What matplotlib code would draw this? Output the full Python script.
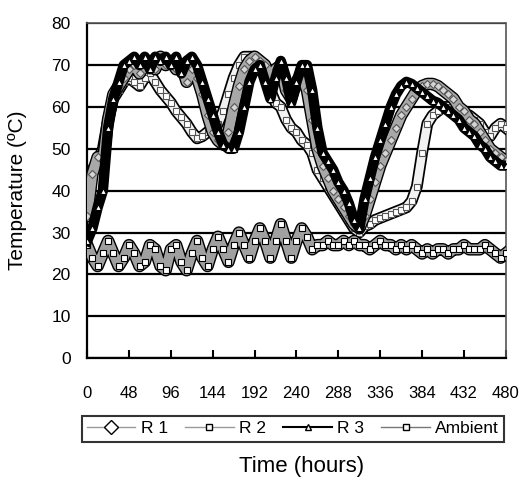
import numpy as np
import matplotlib
matplotlib.use("Agg")
import matplotlib.pyplot as plt
import matplotlib.patheffects as pe
from matplotlib.lines import Line2D

plt.rcParams['font.family'] = ['Liberation Sans', 'DejaVu Sans']

# time axis, one reading every 6 hours
hours = np.arange(0, 481, 6)

r1 = [34, 44, 48, 47, 57, 63, 65, 67, 69, 70, 68, 70, 71, 69, 72, 70, 71, 69, 70, 66,
      69, 67, 63, 58, 54, 52, 51, 54, 60, 65, 69, 71, 72, 71, 70, 66, 69, 70, 64, 62,
      66, 68, 64, 57, 50, 46, 43, 40, 38, 36, 34, 32, 31, 34, 38, 42, 46, 49, 52, 55,
      58, 60, 62, 64, 65, 65.5, 65.5, 65, 64, 63, 62, 60, 59, 57, 56, 54, 52, 50, 49, 48, 47]

r2 = [38, 45, 47, 50, 57, 62, 64, 66, 67, 66, 65, 67, 68, 66, 64, 62.5, 61, 59, 57.5, 56,
      54, 52.5, 53, 54, 55, 56, 59, 63, 67, 70, 72, 72, 72, 71, 68, 64, 61, 60, 57, 55,
      54, 52, 51, 49, 45, 43, 41, 39, 37, 35, 33, 31, 30, 31.5, 32, 33, 33.5, 34, 34.5, 35,
      35.5, 36, 37.5, 41, 49, 56, 58, 59, 60, 60, 59, 59, 58, 58, 57, 56, 54, 53, 55, 56, 55]

r3 = [28, 31, 36, 40, 55, 62, 66, 70, 71, 72, 70, 72, 69, 72, 71, 72, 70, 72, 68, 71,
      72, 70, 66, 62, 58, 54, 51, 50, 50, 54, 60, 66, 69, 70, 66, 62, 67, 71, 67, 61,
      66, 70, 70, 64, 55, 49, 47, 45, 42, 40, 37, 33, 31, 38, 43, 48, 52, 56, 60, 63,
      65, 66, 65.5, 64.5, 63.5, 62.5, 61.5, 61, 60, 59, 58, 57, 55, 54, 53, 51, 50, 48, 47, 46, 46]

ambient = [27, 24, 22, 25, 28, 25, 22, 24, 27, 25, 22, 23, 27, 26, 22, 21, 26, 27, 23, 21,
           25, 28, 24, 22, 26, 29, 26, 23, 27, 30, 27, 24, 28, 31, 28, 24, 28, 32, 28, 24,
           28, 31, 29, 26, 27, 27, 28, 27, 27, 28, 27, 28, 27, 27, 26, 27, 28, 27, 27, 26,
           27, 26, 27, 26, 25, 26, 25, 26, 26, 25, 26, 26, 27, 26, 26, 26, 27, 26, 25, 24, 25]

fig = plt.figure(figsize=(5.22, 4.84), dpi=100)
ax = fig.add_axes([0.167, 0.260, 0.802, 0.692])

def outline(w):
    return [pe.Stroke(linewidth=w, foreground='black'), pe.Normal()]

# thick bands (line + outline), then the markers on top without the outline
ax.plot(hours, r2, color='#f2f2f2', lw=6, path_effects=outline(8.5), zorder=3)
ax.plot(hours, r2, ls='none', marker='s', ms=4, mfc='white', mec='#555555', mew=0.8, zorder=3.1)
ax.plot(hours, r1, color='#a8a8a8', lw=7, path_effects=outline(9), zorder=4)
ax.plot(hours, r1, ls='none', marker='D', ms=4, mfc='#d5d5d5', mec='#555555', mew=0.8, zorder=4.1)
ax.plot(hours, r3, color='black', lw=7.5, zorder=5)
ax.plot(hours, r3, ls='none', marker='^', ms=4, mfc='white', mec='black', mew=0.8, zorder=5.1)
ax.plot(hours, ambient, color='#a0a0a0', lw=7, path_effects=outline(9), zorder=4)
ax.plot(hours, ambient, ls='none', marker='s', ms=4.5, mfc='white', mec='black', mew=0.8, zorder=4.1)

ax.set_xlim(0, 480)
ax.set_ylim(0, 80)
ax.set_xticks(np.arange(0, 481, 48))
ax.set_yticks(np.arange(0, 81, 10))
ax.yaxis.grid(True, color='black', lw=1.6)
ax.set_axisbelow(True)
ax.tick_params(axis='x', direction='in', length=6, width=1.5, pad=20, labelsize=12)
ax.tick_params(axis='y', length=0, pad=12, labelsize=12.5)

for s in ['left', 'bottom']:
    ax.spines[s].set_linewidth(1.6)
for s in ['top', 'right']:
    ax.spines[s].set_color('#555555')
    ax.spines[s].set_linestyle((0, (1, 1)))
    ax.spines[s].set_linewidth(1.2)

fig.text(0.034, 0.607, 'Temperature (ºC)', rotation=90, ha='center', va='center', fontsize=15)
fig.text(0.578, 0.037, 'Time (hours)', ha='center', va='center', fontsize=16)

handles = [
    Line2D([], [], color='#999999', lw=1, marker='D', ms=7, mfc='white', mec='black', mew=1),
    Line2D([], [], color='#999999', lw=1, marker='s', ms=5, mfc='white', mec='black', mew=1),
    Line2D([], [], color='black', lw=1.5, marker='^', ms=5, mfc='white', mec='black', mew=1),
    Line2D([], [], color='#777777', lw=1, marker='s', ms=5, mfc='white', mec='black', mew=1),
]
leg = fig.legend(handles, ['R 1', 'R 2', 'R 3', 'Ambient'], loc='center',
                 bbox_to_anchor=(0.561, 0.114), ncol=4, fontsize=12.5, frameon=True,
                 fancybox=False, edgecolor='black', handlelength=2.8, handletextpad=0.3,
                 columnspacing=1.0, borderpad=0.3, borderaxespad=0)
leg.get_frame().set_linewidth(1.5)

fig.savefig('out.png', dpi=100)
